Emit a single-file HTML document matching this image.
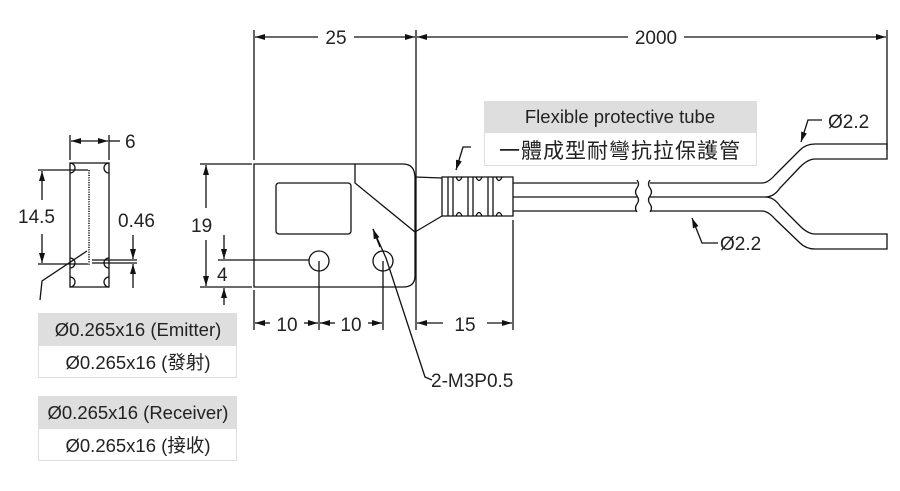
<!DOCTYPE html>
<html><head><meta charset="utf-8"><style>
html,body{margin:0;padding:0;background:#fff;}
svg{display:block;}
text{font-family:"Liberation Sans","Noto Sans CJK TC",sans-serif;fill:#222;}
</style></head><body>
<svg width="900" height="491" viewBox="0 0 900 491" xmlns="http://www.w3.org/2000/svg">
<defs>
<marker id="a" viewBox="0 0 10 6" refX="10" refY="3" markerWidth="10" markerHeight="6" orient="auto-start-reverse" markerUnits="userSpaceOnUse"><path d="M0,0 L10,3 L0,6 z" fill="#111"/></marker>
</defs>
<g stroke="#111" stroke-width="1.3" fill="none">
<line x1="254" y1="30" x2="254" y2="160"/>
<line x1="416" y1="30" x2="416" y2="330"/>
<line x1="887" y1="30" x2="887" y2="150"/>
<line x1="255" y1="37" x2="318" y2="37" marker-start="url(#a)"/>
<line x1="354" y1="37" x2="415" y2="37" marker-end="url(#a)"/>
<line x1="417" y1="37" x2="628" y2="37" marker-start="url(#a)"/>
<line x1="684" y1="37" x2="886" y2="37" marker-end="url(#a)"/>
<path d="M254,164 L403,164 Q415,164 415,178 L415,276 Q415,287 403,287 L254,287 Z"/>
<path d="M355,164 L355,183 L415,232"/>
<rect x="276" y="183" width="75" height="51" rx="3"/>
<circle cx="319" cy="261" r="10"/>
<circle cx="383" cy="261" r="10"/>
<path d="M415,177 L442,178 M415,232 L442,216"/>
<path d="M442,177 L513,177 L513,216 L442,216 Z"/>
<path d="M448,177 V216 M453,177 V216 M468,177 V216 M473,177 V216 M488,177 V216 M493,177 V216"/>
<path d="M456,177 q3,7 6,0 M476,177 q3,7 6,0 M496,177 q3,7 6,0 M456,216 q3,-7 6,0 M476,216 q3,-7 6,0 M496,216 q3,-7 6,0"/>
<path d="M513,183 H637 M513,197 H637 M513,211 H637"/>
<path d="M637,180 q3,4 0,8 q-3,4 0,8 q3,4 0,8 q-3,4 0,8"/>
<path d="M650,180 q-3,4 0,8 q3,4 0,8 q-3,4 0,8 q3,4 0,8"/>
<path d="M650,183 H762 Q768,183 775,175 L800,150 Q806,144 815,144 H887 V159 H815 Q808,159 800,167 L780,188 Q774,197 765,197 H650"/>
<path d="M650,211 H762 Q768,211 775,219 L800,243 Q806,249 815,249 H887 V234 H815 Q808,234 800,226 L780,206 Q774,197 765,197"/>
<path d="M471,147 L463,147 L456,170" marker-end="url(#a)"/>
<path d="M822,120 L808,120 L801,142" marker-end="url(#a)"/>
<path d="M718,243 L702,243 L692,218" marker-end="url(#a)"/>
<path d="M373,229 L386,258 L425,377 L432,380"/>
<line x1="373" y1="229" x2="380" y2="247" marker-start="url(#a)"/>
<line x1="254" y1="290" x2="254" y2="330"/>
<line x1="319" y1="261" x2="319" y2="330"/>
<line x1="383" y1="261" x2="383" y2="330"/>
<line x1="513" y1="220" x2="513" y2="330"/>
<line x1="255" y1="323" x2="270" y2="323" marker-start="url(#a)"/>
<line x1="304" y1="323" x2="318" y2="323" marker-end="url(#a)"/>
<line x1="320" y1="323" x2="335" y2="323" marker-start="url(#a)"/>
<line x1="368" y1="323" x2="382" y2="323" marker-end="url(#a)"/>
<line x1="417" y1="323" x2="443" y2="323" marker-start="url(#a)"/>
<line x1="487" y1="323" x2="512" y2="323" marker-end="url(#a)"/>
<line x1="200" y1="164" x2="252" y2="164"/>
<line x1="200" y1="287" x2="252" y2="287"/>
<line x1="218" y1="260" x2="309" y2="260"/>
<line x1="206" y1="165" x2="206" y2="208" marker-start="url(#a)"/>
<line x1="206" y1="240" x2="206" y2="286" marker-end="url(#a)"/>
<line x1="224" y1="235" x2="224" y2="259" marker-end="url(#a)"/>
<line x1="224" y1="305" x2="224" y2="288" marker-end="url(#a)"/>
<path d="M70,163 H109 V287 H70 Z"/>
<path d="M70,163 a5,5 0 0 1 0,10 M109,163 a5,5 0 0 0 0,10 M70,277 a5,5 0 0 1 0,10 M109,277 a5,5 0 0 0 0,10"/>
<path d="M70,258 a5,5 0 0 1 0,10 M109,258 a5,5 0 0 0 0,10"/>
<line x1="89" y1="170" x2="89" y2="265" stroke-dasharray="1.2 1.2" stroke-width="1.5"/>
<line x1="92" y1="260" x2="137" y2="260"/>
<line x1="92" y1="263" x2="137" y2="263"/>
<line x1="38" y1="170" x2="88" y2="170"/>
<line x1="38" y1="264" x2="88" y2="264"/>
<line x1="42" y1="171" x2="42" y2="200" marker-start="url(#a)"/>
<line x1="42" y1="234" x2="42" y2="263" marker-end="url(#a)"/>
<line x1="133" y1="235" x2="133" y2="259" marker-end="url(#a)"/>
<line x1="133" y1="288" x2="133" y2="264" marker-end="url(#a)"/>
<path d="M40,300 L42,281 L87,251"/>
<line x1="70" y1="135" x2="70" y2="160"/>
<line x1="109" y1="135" x2="109" y2="160"/>
<line x1="71" y1="141" x2="108" y2="141" marker-start="url(#a)" marker-end="url(#a)"/>
<line x1="109" y1="141" x2="120" y2="141"/>
</g>
<g font-size="19">
<text x="336" y="44" text-anchor="middle">25</text>
<text x="656" y="44" text-anchor="middle">2000</text>
<text x="125" y="148">6</text>
<text x="18" y="223">14.5</text>
<text x="118" y="227">0.46</text>
<text x="191" y="232">19</text>
<text x="217" y="281">4</text>
<text x="287" y="331" text-anchor="middle">10</text>
<text x="351" y="331" text-anchor="middle">10</text>
<text x="465" y="331" text-anchor="middle">15</text>
<text x="431" y="387">2-M3P0.5</text>
<text x="828" y="128">Ø2.2</text>
<text x="720" y="250">Ø2.2</text>
</g>
<rect x="484" y="101" width="273" height="31" fill="#dedede"/>
<rect x="484.5" y="132.5" width="272" height="33" fill="#fff" stroke="#ddd"/>
<text x="620" y="123" font-size="18.5" text-anchor="middle">Flexible protective tube</text>
<text x="620" y="158" font-size="21" text-anchor="middle" letter-spacing="1">一體成型耐彎抗拉保護管</text>
<rect x="38" y="313" width="199" height="32" fill="#dedede"/>
<rect x="38.5" y="345.5" width="198" height="32" fill="#fff" stroke="#ddd"/>
<text x="138" y="336" font-size="18.5" text-anchor="middle">Ø0.265x16 (Emitter)</text>
<text x="138" y="369" font-size="18.5" text-anchor="middle">Ø0.265x16 (發射)</text>
<rect x="38" y="396" width="199" height="32" fill="#dedede"/>
<rect x="38.5" y="428.5" width="198" height="32" fill="#fff" stroke="#ddd"/>
<text x="138" y="419" font-size="18.5" text-anchor="middle">Ø0.265x16 (Receiver)</text>
<text x="138" y="452" font-size="18.5" text-anchor="middle">Ø0.265x16 (接收)</text>
</svg>
</body></html>
